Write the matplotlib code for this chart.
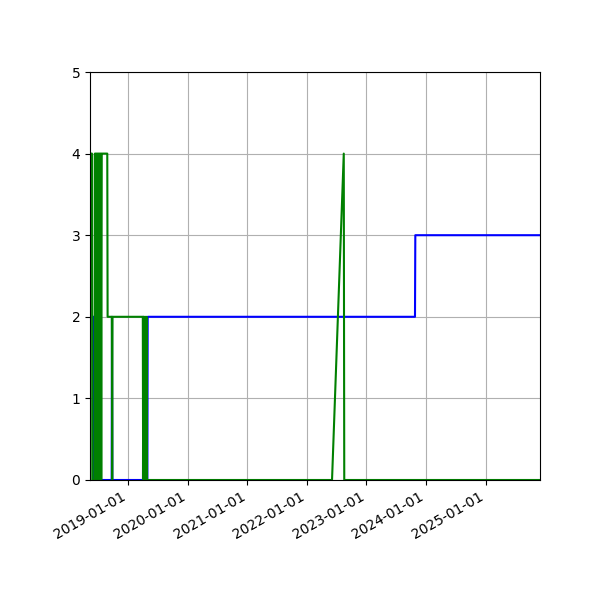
import pandas as pd
import matplotlib
matplotlib.use('Agg')
import matplotlib.pyplot as plt
import matplotlib.dates as mdates

# blue series
blue_dates = ['2018-06-01', '2018-06-03', '2018-09-21', '2018-09-23', '2018-09-25',
              '2019-04-01', '2019-04-03', '2019-04-05', '2019-04-28', '2019-04-30',
              '2023-10-26', '2023-10-28', '2025-12-01']
blue_vals = [2, 0, 0, 2, 0,
             0, 2, 0, 0, 2,
             2, 3, 3]

# green series
green_dates = ['2018-05-11', '2018-05-23', '2018-05-25', '2018-06-08', '2018-06-10',
               '2018-06-13', '2018-06-16', '2018-06-19', '2018-06-22', '2018-06-25',
               '2018-06-28', '2018-07-01', '2018-07-04', '2018-07-07', '2018-07-10',
               '2018-07-13', '2018-07-16', '2018-07-19', '2018-07-22', '2018-07-24',
               '2018-08-25', '2018-08-27', '2018-09-22', '2018-09-24', '2018-09-26',
               '2019-03-31', '2019-04-02', '2019-04-05', '2019-04-08', '2019-04-11',
               '2019-04-14', '2019-04-17', '2019-04-20', '2019-04-23', '2019-04-26',
               '2022-06-04', '2022-08-15', '2022-08-18', '2025-12-01']
green_vals = [4, 4, 0, 0, 4,
              0, 4, 0, 4, 0,
              4, 0, 4, 0, 4,
              0, 4, 0, 4, 4,
              4, 2, 2, 0, 2,
              2, 0, 2, 0, 2,
              0, 2, 0, 2, 0,
              0, 4, 0, 0]

x_start = '2018-05-11'
x_end = '2025-12-01'

fig, ax = plt.subplots(figsize=(6, 6), dpi=100)
ax.plot(pd.to_datetime(blue_dates), blue_vals, color='b')
ax.plot(pd.to_datetime(green_dates), green_vals, color='g')

ax.set_xlim(pd.Timestamp(x_start), pd.Timestamp(x_end))
ax.set_ylim(0, 5)
ax.xaxis.set_major_locator(mdates.YearLocator())
ax.xaxis.set_major_formatter(mdates.DateFormatter('%Y-%m-%d'))
ax.grid()
fig.autofmt_xdate()
fig.subplots_adjust(left=0.15, right=0.9, top=0.88, bottom=0.2)

plt.savefig('out.png')
